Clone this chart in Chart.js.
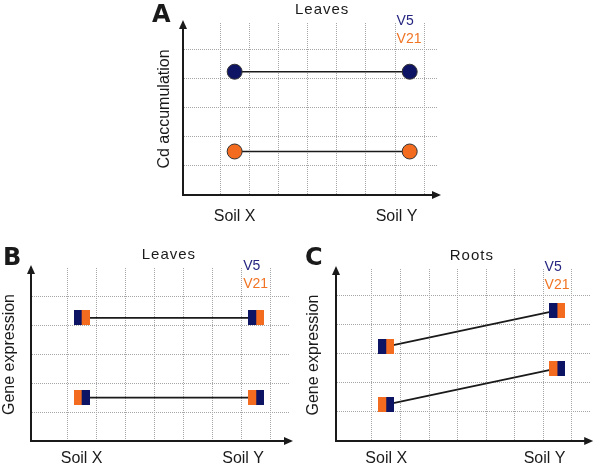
<html>
<head>
<script src="https://cdn.jsdelivr.net/npm/chart.js"></script>
<style>
  body { margin: 0; background: #fff; }
  canvas { position: absolute; }
</style>
</head>
<body>
<canvas id="chartA" width="310" height="230" style="left:140px;top:0px"></canvas>
<canvas id="chartB" width="300" height="235" style="left:0px;top:230px"></canvas>
<canvas id="chartC" width="300" height="235" style="left:300px;top:230px"></canvas>
<script>
// data
var soilLabels = ['Soil X', 'Soil Y'];
var soilValues = [1.5, 7.5];
var seriesNames = ['V5', 'V21'];
var cdV5 = [4.25, 4.25];
var cdV21 = [1.5, 1.5];
var leavesUpper = [4.25, 4.25];
var leavesLower = [1.5, 1.5];
var rootsUpper = [3.25, 4.5];
var rootsLower = [1.25, 2.5];
var gridX = [1, 2, 3, 4, 5, 6, 7, 8];
var gridY = [1, 2, 3, 4, 5];

var navy = '#0e1464';
var orange = '#f26b1f';
var gridColor = '#a6a6a6';
var ink = '#1a1a1a';

function xy(values) {
  return values.map(function(v, i) { return {x: soilValues[i], y: v}; });
}

// two-colour square marker
function splitBox(left, right) {
  var c = document.createElement('canvas');
  c.width = 16;
  c.height = 15;
  var g = c.getContext('2d');
  g.fillStyle = left;
  g.fillRect(0, 0, 8, 15);
  g.fillStyle = right;
  g.fillRect(8, 0, 8, 15);
  return c;
}

function decor(p) {
  return {
    id: 'decor',
    afterDraw: function(chart) {
      var ctx = chart.ctx, a = chart.chartArea, x = chart.scales.x;
      ctx.save();
      ctx.fillStyle = ink;
      // arrow heads
      ctx.beginPath();
      ctx.moveTo(a.left, a.top - 3);
      ctx.lineTo(a.left - 4, a.top + 6);
      ctx.lineTo(a.left + 4, a.top + 6);
      ctx.fill();
      ctx.beginPath();
      ctx.moveTo(a.right + 3, a.bottom);
      ctx.lineTo(a.right - 6, a.bottom - 4);
      ctx.lineTo(a.right - 6, a.bottom + 4);
      ctx.fill();

      ctx.textBaseline = 'alphabetic';
      ctx.textAlign = 'left';
      ctx.font = 'bold 24px "DejaVu Sans"';
      ctx.fillText(p.letter, p.letterX, p.letterY);

      ctx.font = '15px "Liberation Sans"';
      ctx.letterSpacing = '1px';
      ctx.textAlign = 'center';
      ctx.fillText(p.title, x.getPixelForValue(4.5), a.top - 9);
      ctx.letterSpacing = '0px';

      ctx.textAlign = 'left';
      ctx.font = '14px "Liberation Sans"';
      ctx.fillStyle = '#262680';
      ctx.fillText(seriesNames[0], x.getPixelForValue(7.05), a.top + 2);
      ctx.fillStyle = '#f07424';
      ctx.fillText(seriesNames[1], x.getPixelForValue(7.05), a.top + 20);
      ctx.restore();
    }
  };
}

function makeChart(id, p) {
  var labelAt = [1.5, 7.05];
  var ticks = gridX.concat(labelAt).sort(function(a, b) { return a - b; });
  return new Chart(document.getElementById(id), {
    type: 'line',
    data: { datasets: p.datasets },
    options: {
      responsive: false,
      animation: false,
      events: [],
      layout: { padding: { top: p.top, right: p.right, left: 0, bottom: 0 } },
      plugins: { legend: { display: false }, tooltip: { enabled: false } },
      scales: {
        x: {
          type: 'linear',
          min: p.xMin,
          max: p.xMax,
          afterBuildTicks: function(s) { s.ticks = ticks.map(function(v) { return {value: v}; }); },
          afterFit: function(s) { s.height = p.xHeight; },
          ticks: {
            autoSkip: false,
            maxRotation: 0,
            padding: p.tickPad,
            color: ink,
            font: { family: 'Liberation Sans', size: 16 },
            callback: function(v) {
              var i = labelAt.indexOf(v);
              return i < 0 ? '' : soilLabels[i];
            }
          },
          grid: {
            drawTicks: false,
            lineWidth: 1,
            color: function(c) {
              return c.tick && labelAt.indexOf(c.tick.value) >= 0 ? 'rgba(0,0,0,0)' : gridColor;
            }
          },
          border: { color: ink, width: 2, dash: [1, 1] }
        },
        y: {
          type: 'linear',
          min: 0,
          max: p.yMax,
          afterBuildTicks: function(s) { s.ticks = gridY.map(function(v) { return {value: v}; }); },
          afterFit: function(s) { s.width = p.yWidth; },
          ticks: { display: false },
          grid: { drawTicks: false, lineWidth: 1, color: gridColor },
          border: { color: ink, width: 2, dash: [1, 1] },
          title: {
            display: true,
            text: p.yTitle,
            color: ink,
            font: { family: 'Liberation Sans', size: 16 },
            padding: { top: p.titlePad, bottom: 0 }
          }
        }
      }
    },
    plugins: [decor(p)]
  });
}

function circleSet(values, fill) {
  return {
    data: xy(values),
    borderColor: ink,
    borderWidth: 1.6,
    pointRadius: 7.5,
    pointBackgroundColor: fill,
    pointBorderColor: '#333',
    pointBorderWidth: 1
  };
}

function boxSet(values, marker) {
  return {
    data: xy(values),
    borderColor: ink,
    borderWidth: 1.8,
    pointRadius: 8,
    pointStyle: marker
  };
}

var navyOrange = splitBox(navy, orange);
var orangeNavy = splitBox(orange, navy);

makeChart('chartA', {
  letter: 'A', letterX: 12, letterY: 22, title: 'Leaves', yTitle: 'Cd accumulation',
  top: 23, right: 12, xHeight: 35, yWidth: 43, titlePad: 15, tickPad: 12,
  xMin: -0.27, xMax: 8.47, yMax: 5.93,
  datasets: [circleSet(cdV5, navy), circleSet(cdV21, orange)]
});

makeChart('chartB', {
  letter: 'B', letterX: 3, letterY: 35, title: 'Leaves', yTitle: 'Gene expression',
  top: 38, right: 10, xHeight: 24, yWidth: 31, titlePad: 0, tickPad: 8,
  xMin: -0.24, xMax: 8.66, yMax: 5.97,
  datasets: [boxSet(leavesUpper, navyOrange), boxSet(leavesLower, orangeNavy)]
});

makeChart('chartC', {
  letter: 'C', letterX: 5, letterY: 35, title: 'Roots', yTitle: 'Gene expression',
  top: 39, right: 3, xHeight: 24, yWidth: 36, titlePad: 4, tickPad: 8,
  xMin: -0.26, xMax: 8.65, yMax: 5.93,
  datasets: [boxSet(rootsUpper, navyOrange), boxSet(rootsLower, orangeNavy)]
});
</script>
</body>
</html>
